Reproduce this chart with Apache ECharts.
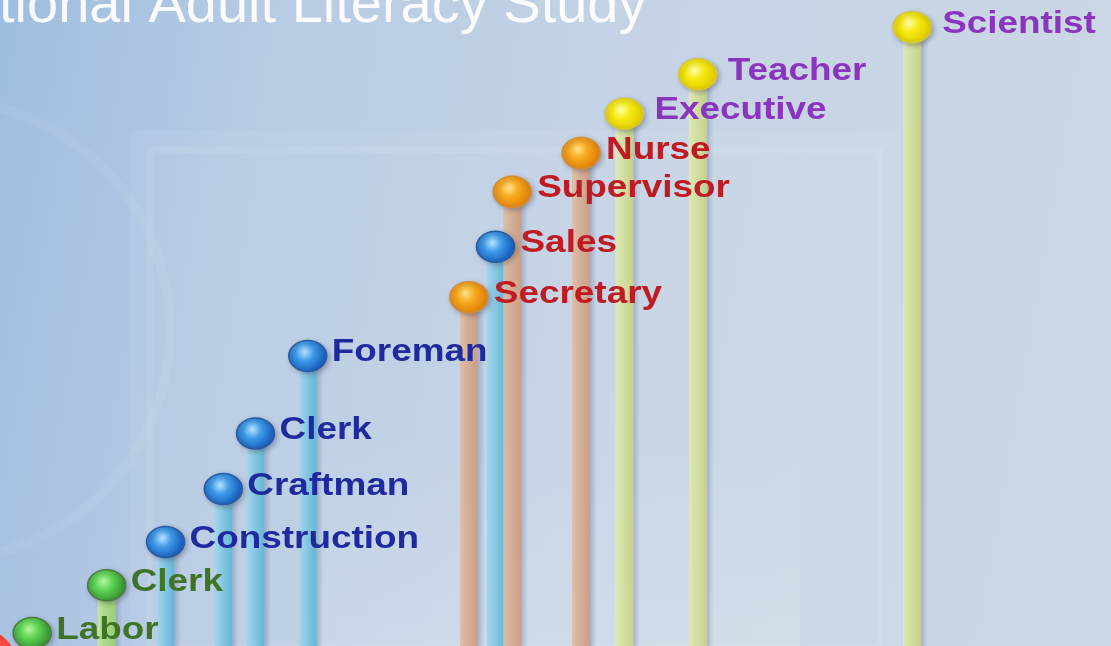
<!DOCTYPE html>
<html><head><meta charset="utf-8">
<script src="https://cdn.jsdelivr.net/npm/echarts@6/dist/echarts.min.js"></script>
<style>html,body{margin:0;padding:0;width:1111px;height:646px;overflow:hidden;background:#c4d3e4}#c{width:1111px;height:646px}</style>
</head><body><div id="c"></div>
<script>
// ---- data ----
const occupations = ['Labor','Clerk','Construction','Craftman','Clerk','Foreman','Secretary','Sales','Supervisor','Nurse','Executive','Teacher','Scientist'];
const xPosition   = [2.9, 9.6, 14.9, 20.1, 23.0, 27.7, 42.2, 44.6, 46.1, 52.3, 56.2, 62.8, 82.1];
const literacyLevel = [2.0, 9.4, 16.1, 24.3, 32.9, 44.9, 54.0, 61.8, 70.3, 76.3, 82.4, 88.5, 95.8];
const ballTier  = [1, 1, 2, 2, 2, 2, 3, 2, 3, 3, 4, 4, 4];
const labelTier = [1, 1, 2, 2, 2, 2, 3, 3, 3, 3, 4, 4, 4];
const titleText = 'tional Adult Literacy Study';

// ---- styles ----
const ballStyle = {
  1: {hi:'#b6f59a', mid:'#5fd455', lo:'#3c9a36', edge:'#4d7a3c'},
  2: {hi:'#b8e2ff', mid:'#3f9ae8', lo:'#1a62c0', edge:'#2a5aa0'},
  3: {hi:'#ffe08a', mid:'#f7a91e', lo:'#e4850c', edge:'#d88a30'},
  4: {hi:'#fffbb0', mid:'#f7ea10', lo:'#e2cf00', edge:'#d8c830'}
};
const stemStyle = {
  1: ['#c4e6a0','#a8d878','#98cc6c'],
  2: ['#a6d6ec','#7cc4e2','#5cb2d6'],
  3: ['#e0bea4','#d4a98c','#c99a7c'],
  4: ['#e2eab4','#d2de96','#c4d184']
};
const labelColor = {1:'#3f7326', 2:'#1f2a9e', 3:'#c01a22', 4:'#8b34bf'};
const labelGap = {1:24, 2:24, 3:25, 4:30};

const chart = echarts.init(document.getElementById('c'), null, {renderer:'canvas'});

const seriesData = occupations.map((n, i) => [xPosition[i], literacyLevel[i]]);

function lin(stops){
  return {type:'linear', x:0, y:0, x2:1, y2:0, colorStops: stops.map((c,k)=>({offset:k/(stops.length-1), color:c}))};
}

const option = {
  animation: false,
  backgroundColor: {
    type:'linear', x:0, y:0, x2:1, y2:0.3,
    colorStops:[
      {offset:0, color:'#9fbde0'},
      {offset:0.25, color:'#b8cce4'},
      {offset:0.6, color:'#c6d4e5'},
      {offset:1, color:'#cbd7e5'}
    ]
  },
  grid: {left:0, right:0, top:0, bottom:0},
  xAxis: {type:'value', min:0, max:100, show:false},
  yAxis: {type:'value', min:0, max:100, show:false},
  graphic: [
    {type:'rect', silent:true, z:-10, shape:{x:130, y:130, width:770, height:516},
     style:{fill:'rgba(255,255,255,0.05)'}},
    {type:'rect', silent:true, z:-10, shape:{x:150, y:150, width:730, height:496},
     style:{fill:'none', stroke:'rgba(255,255,255,0.08)', lineWidth:6}},
    {type:'circle', silent:true, z:-10, shape:{cx:-60, cy:330, r:230},
     style:{fill:'none', stroke:'rgba(255,255,255,0.06)', lineWidth:10}},
    {type:'rect', silent:true, z:-10, shape:{x:300, y:430, width:500, height:216},
     style:{fill:{type:'linear',x:0,y:0,x2:0,y2:1,colorStops:[{offset:0,color:'rgba(255,255,255,0)'},{offset:1,color:'rgba(255,255,255,0.14)'}]}}},
    {type:'text', silent:true, z:5, x:-1, y:35,
     style:{text:titleText, font:'56px "Liberation Sans", Arial, sans-serif', fill:'rgba(255,255,255,0.93)', textAlign:'left', textVerticalAlign:'bottom', align:'left', verticalAlign:'bottom'}},
    {type:'circle', silent:true, z:5, shape:{cx:-22, cy:668, r:40},
     style:{fill:{type:'radial', x:0.7, y:0.3, r:0.8, colorStops:[{offset:0,color:'#ff5a4a'},{offset:1,color:'#c80e0e'}]}}}
  ],
  series: [
    {
      type:'custom', name:'stems', z:2,
      data: seriesData,
      renderItem: function(params, api){
        const p = api.coord([api.value(0), api.value(1)]);
        const b = api.coord([api.value(0), 0]);
        const s = stemStyle[ballTier[params.dataIndex]];
        const h = b[1] - p[1];
        return {type:'group', children:[
          {type:'rect', shape:{x:p[0]+9, y:p[1]+6, width:7, height:h},
           style:{fill:lin(['rgba(130,140,165,0.55)','rgba(150,160,185,0.0)'])}},
          {type:'rect', shape:{x:p[0]-9, y:p[1], width:18, height:h},
           style:{fill:lin([s[0], s[1], s[2]]), opacity:0.9}}
        ]};
      }
    },
    {
      type:'custom', name:'balls', z:3,
      data: seriesData,
      renderItem: function(params, api){
        const i = params.dataIndex;
        const p = api.coord([api.value(0), api.value(1)]);
        const bs = ballStyle[ballTier[i]];
        const lt = labelTier[i];
        return {type:'group', children:[
          {type:'ellipse', shape:{cx:p[0], cy:p[1], rx:19, ry:15.5},
           style:{
             fill:{type:'radial', x:0.42, y:0.38, r:0.62, colorStops:[
               {offset:0, color:bs.hi},{offset:0.45, color:bs.mid},{offset:1, color:bs.lo}]},
             stroke:bs.edge, lineWidth:1.5,
             shadowBlur:5, shadowColor:'rgba(60,60,80,0.35)', shadowOffsetX:2, shadowOffsetY:2
           }},
          {type:'text', x:p[0]+labelGap[lt], y:p[1]-3, scaleX:1.19,
           style:{text:occupations[i], font:'bold 31px "Liberation Sans", Arial, sans-serif',
             fill:labelColor[lt], textAlign:'left', textVerticalAlign:'middle',
             align:'left', verticalAlign:'middle'}}
        ]};
      }
    }
  ]
};
chart.setOption(option);
</script>
</body></html>
